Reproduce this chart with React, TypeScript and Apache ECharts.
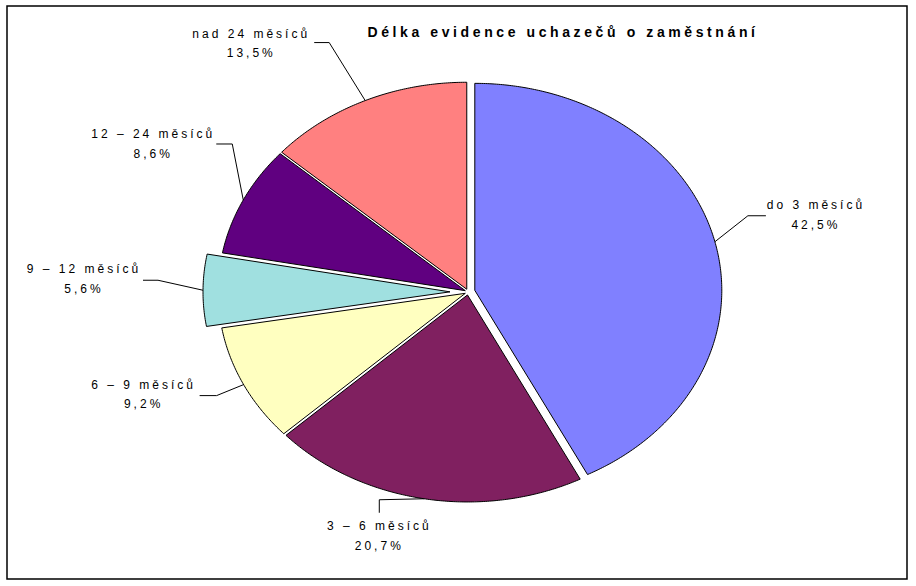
import React, { useEffect, useRef } from 'react';
import * as echarts from 'echarts';

const TITLE = 'Délka evidence uchazečů o zaměstnání';
const categories = ['do 3 měsíců', '3 – 6 měsíců', '6 – 9 měsíců', '9 – 12 měsíců', '12 – 24 měsíců', 'nad 24 měsíců'];
const shares = [42.5, 20.7, 9.2, 5.6, 8.6, 13.5];
const colors = ['#8080FF', '#802060', '#FFFFC0', '#A0E0E0', '#600080', '#FF8080'];
const explode = [7, 3, 3, 18, 3, 3];

// layout of the leader lines and labels, relative to the anchor point on each slice edge
const leaderElbow = [[33, -26], [-45, 1], [-27, 11], [-45, -10], [-11, -56], [-36, -58]];
const leaderEnd = [[51, -26], [-45, 14], [-44, 11], [-60, -10], [-27, -56], [-51, -58]];
const labelOffset = [[101, -27], [-45, 37], [-100, 10], [-119, -11], [-90, -56], [-114, -57]];

const PIE = { cx: 468, cy: 292, rx: 247, ry: 207 };

const fmtPct = (v: number) => v.toFixed(1).replace('.', ',') + '%';

export default function App() {
  const ref = useRef<HTMLDivElement>(null);
  useEffect(() => {
    if (!ref.current) return;
    const chart = echarts.init(ref.current, undefined, { renderer: 'svg' });
    const total = shares.reduce((a, b) => a + b, 0);
    const option: any = {
      animation: false,
      backgroundColor: '#ffffff',
      graphic: [
        {
          type: 'rect',
          shape: { x: 7, y: 6, width: 900, height: 573 },
          style: { fill: 'none', stroke: '#000', lineWidth: 1.5 },
          silent: true,
        },
        {
          type: 'text',
          x: 563,
          y: 32,
          style: {
            text: TITLE,
            align: 'center',
            verticalAlign: 'middle',
            font: 'bold 14px "Liberation Sans", Arial, sans-serif',
            fill: '#000',
          },
        },
      ],
      series: [
        {
          type: 'custom',
          coordinateSystem: 'none',
          data: shares.map((v, i) => ({ value: v, name: categories[i] })),
          renderItem: (params: any, api: any) => {
            const i = params.dataIndex;
            const v = api.value(0) as number;
            let start = 0;
            for (let k = 0; k < i; k++) start += shares[k];
            const a0 = (start / total) * Math.PI * 2;
            const a1 = ((start + v) / total) * Math.PI * 2;
            const am = (a0 + a1) / 2;
            const ex = explode[i] * Math.sin(am);
            const ey = -explode[i] * Math.cos(am);
            const cx = PIE.cx + ex;
            const cy = PIE.cy + ey;
            const pts: number[][] = [[cx, cy]];
            const n = Math.max(8, Math.ceil((a1 - a0) / (Math.PI / 360)));
            for (let j = 0; j <= n; j++) {
              const t = a0 + ((a1 - a0) * j) / n;
              pts.push([cx + PIE.rx * Math.sin(t), cy - PIE.ry * Math.cos(t)]);
            }
            const A = [cx + PIE.rx * Math.sin(am), cy - PIE.ry * Math.cos(am)];
            const E = [A[0] + leaderElbow[i][0], A[1] + leaderElbow[i][1]];
            const F = [A[0] + leaderEnd[i][0], A[1] + leaderEnd[i][1]];
            const L = [A[0] + labelOffset[i][0], A[1] + labelOffset[i][1]];
            return {
              type: 'group',
              children: [
                {
                  type: 'polygon',
                  shape: { points: pts },
                  style: { fill: colors[i], stroke: '#000', lineWidth: 1 },
                },
                {
                  type: 'polyline',
                  shape: { points: [A, E, F] },
                  style: { fill: 'none', stroke: '#000', lineWidth: 1 },
                },
                {
                  type: 'text',
                  x: L[0],
                  y: L[1],
                  style: {
                    text: categories[i] + '\n' + fmtPct(v),
                    align: 'center',
                    verticalAlign: 'middle',
                    font: '12px "Liberation Sans", Arial, sans-serif',
                    lineHeight: 19.5,
                    fill: '#000',
                  },
                },
              ],
            };
          },
        },
      ],
    };
    chart.setOption(option);
    return () => chart.dispose();
  }, []);
  return (
    <>
      <style>{`
        #pie-box svg text { letter-spacing: 3px; }
        #pie-box svg text[style*="bold"] { letter-spacing: 3.6px; }
      `}</style>
      <div
        id="pie-box"
        ref={ref}
        style={{ position: 'absolute', left: 0, top: 0, width: 916, height: 586 }}
      />
    </>
  );
}
